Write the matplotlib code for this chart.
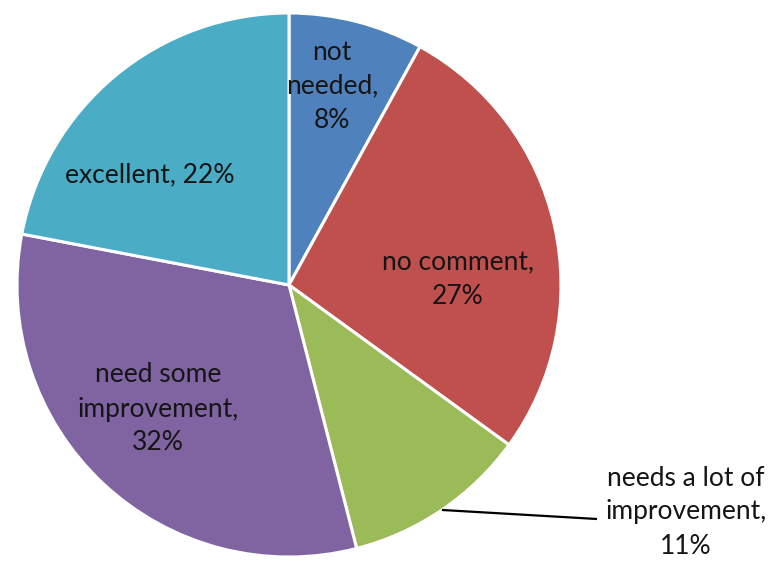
import matplotlib
matplotlib.use("Agg")
import matplotlib.pyplot as plt
import numpy as np

# Survey responses (percent of respondents)
categories = ["not needed", "no comment", "needs a lot of improvement",
              "need some improvement", "excellent"]
shares = [8, 27, 11, 32, 22]
colors = ["#4F81BD", "#C0504D", "#9BBB59", "#8064A2", "#4BACC6"]

W, H = 769, 563
fig = plt.figure(figsize=(W / 100, H / 100), dpi=100)
ax = fig.add_axes([0, 0, 1, 1])

cx, cy, R = 289, H - 285, 272
wedges, _ = ax.pie(shares, colors=colors, startangle=90, counterclock=False,
                   radius=R, center=(cx, cy),
                   wedgeprops=dict(edgecolor="white", linewidth=2.2))
ax.set_xlim(0, W)
ax.set_ylim(0, H)
ax.set_aspect("equal")
ax.axis("off")

font = dict(family=["Lato", "DejaVu Sans"], fontsize=19, color="#151515",
            ha="center", va="center", linespacing=1.45)

# label text lines per slice, and where each block sits (pixels from top-left)
label_lines = [
    ["not", "needed,", "{}%"],
    ["no comment,", "{}%"],
    ["needs a lot of", "improvement,", "{}%"],
    ["need some", "improvement,", "{}%"],
    ["excellent, {}%"],
]
label_xy = [(332, 86), (458, 280), (686, 512), (158, 409), (150, 175)]

for lines, val, (x, y) in zip(label_lines, shares, label_xy):
    txt = "\n".join(lines).format(val)
    ax.text(x, H - y, txt, **font)

# leader line for the small green slice
i = 2
start = 90 - 360 * (sum(shares[:i]) + shares[i] / 2) / sum(shares)
ang = np.deg2rad(start)
px, py = cx + R * np.cos(ang), cy + R * np.sin(ang)
ax.plot([px, 597], [py, H - 519], color="black", linewidth=1.6,
        solid_capstyle="butt")

fig.savefig("out.png", dpi=100, facecolor="white")
